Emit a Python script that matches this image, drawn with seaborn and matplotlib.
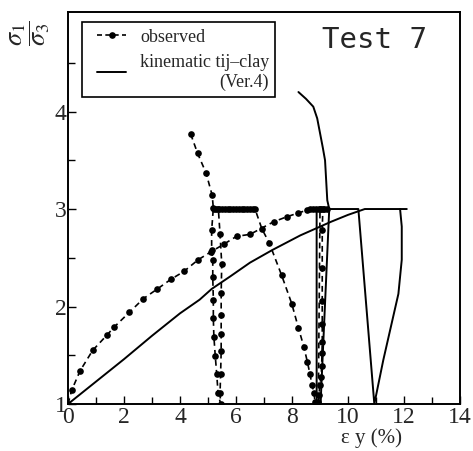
import numpy as np
import pandas as pd
import matplotlib
matplotlib.use('Agg')
import matplotlib.pyplot as plt
from matplotlib.lines import Line2D
from matplotlib.legend_handler import HandlerLine2D
from matplotlib.ticker import FixedLocator
import seaborn as sns

# observed: monotonic loading branch + unload/reload near 9 %
obs_load_x = [0.0, 0.13, 0.43, 0.88, 1.40, 1.65, 2.19, 2.69, 3.19, 3.68, 4.14, 4.65, 5.10, 5.57,
              6.02, 6.50, 7.35, 7.81, 8.23, 8.55, 8.65, 8.75, 8.85, 8.95, 9.05, 9.15, 9.24,
              9.00, 8.94, 8.96, 9.00, 9.04, 9.06, 9.07, 9.08, 9.08, 9.08, 9.08, 9.08, 9.10]
obs_load_y = [1.0, 1.14, 1.34, 1.55, 1.71, 1.79, 1.94, 2.08, 2.18, 2.28, 2.36, 2.48, 2.56, 2.64,
              2.72, 2.74, 2.87, 2.92, 2.96, 2.99, 3.0, 3.0, 3.0, 3.0, 3.0, 3.0, 3.0,
              3.0, 1.02, 1.09, 1.2, 1.28, 1.39, 1.52, 1.64, 1.82, 2.06, 2.39, 2.78, 3.0]

# observed: second branch with cycle near 5 %
obs_cyc_x = [4.38, 4.63, 4.93, 5.15, 5.19, 5.13, 5.13, 5.17, 5.17, 5.19, 5.19, 5.21, 5.26, 5.31,
             5.36, 5.45, 5.43, 5.45, 5.47, 5.47, 5.47, 5.47, 5.49, 5.43, 5.37,
             5.2, 5.3, 5.4, 5.5, 5.6, 5.7, 5.8, 5.9, 6.0, 6.1, 6.2, 6.3, 6.4, 6.5, 6.6, 6.68,
             6.92, 7.19, 7.63, 7.99, 8.23, 8.43, 8.55, 8.64, 8.71, 8.79, 8.82]
obs_cyc_y = [3.77, 3.57, 3.37, 3.14, 3.01, 2.78, 2.58, 2.48, 2.30, 2.07, 1.88, 1.69, 1.49, 1.31,
             1.11, 1.0, 1.11, 1.31, 1.54, 1.72, 1.91, 2.14, 2.44, 2.74, 3.0,
             3.0, 3.0, 3.0, 3.0, 3.0, 3.0, 3.0, 3.0, 3.0, 3.0, 3.0, 3.0, 3.0, 3.0, 3.0, 3.0,
             2.80, 2.65, 2.32, 2.03, 1.78, 1.58, 1.43, 1.31, 1.20, 1.11, 1.02]

# kinematic tij-clay (Ver.4)
kin_load_x = [0.0, 1.0, 2.0, 3.0, 4.0, 4.7, 5.13, 5.8, 6.5, 7.3, 8.3, 9.4, 10.0, 10.6, 12.1]
kin_load_y = [1.0, 1.23, 1.46, 1.70, 1.93, 2.07, 2.18, 2.31, 2.45, 2.58, 2.73, 2.87, 2.94, 3.0, 3.0]
kin_cyc1_x = [8.52, 10.37, 10.94, 11.26, 11.8, 11.92, 11.92, 11.86]
kin_cyc1_y = [3.0, 3.0, 1.0, 1.45, 2.13, 2.48, 2.82, 3.0]
kin_cyc2_x = [8.23, 8.5, 8.76, 8.9, 9.0, 9.1, 9.18, 9.26, 9.33, 9.02, 8.88, 8.88]
kin_cyc2_y = [4.2, 4.13, 4.05, 3.93, 3.78, 3.63, 3.5, 3.09, 3.0, 1.0, 1.0, 3.0]

x_ticks = [0, 2, 4, 6, 8, 10, 12, 14]
y_ticks = [1, 2, 3, 4]


def segs(*pairs):
    frames = []
    for i, (xs, ys) in enumerate(pairs):
        frames.append(pd.DataFrame({'x': xs, 'y': ys, 'seg': i}))
    return pd.concat(frames, ignore_index=True)


obs = segs((obs_load_x, obs_load_y), (obs_cyc_x, obs_cyc_y))
kin = segs((kin_load_x, kin_load_y), (kin_cyc1_x, kin_cyc1_y), (kin_cyc2_x, kin_cyc2_y))

sns.set_style('ticks')
plt.rcParams['font.family'] = ['Liberation Serif', 'DejaVu Serif']
plt.rcParams['mathtext.fontset'] = 'stix'

fig = plt.figure(figsize=(4.73, 4.51), dpi=100)
ax = fig.add_axes([0.1438, 0.1042, 0.8287, 0.869])

sns.lineplot(data=kin, x='x', y='y', units='seg', estimator=None, sort=False,
             color='black', linewidth=1.4, ax=ax)
sns.lineplot(data=obs, x='x', y='y', units='seg', estimator=None, sort=False,
             color='black', linewidth=1.2, linestyle=(0, (3.5, 2.5)), marker='o',
             markersize=4.8, markeredgewidth=0, ax=ax)

ax.set_xlim(0, 14)
ax.set_ylim(1, 5.02)
ax.xaxis.set_major_locator(FixedLocator(x_ticks))
ax.xaxis.set_minor_locator(FixedLocator(list(range(1, 14, 2))))
ax.yaxis.set_major_locator(FixedLocator(y_ticks))
ax.yaxis.set_minor_locator(FixedLocator([1.5, 2.5, 3.5, 4.5]))
ax.tick_params(which='both', direction='in', color='black', width=1.0)
ax.tick_params(which='major', length=6, labelsize=17)
ax.tick_params(which='minor', length=5)
ax.tick_params(axis='y', pad=1)
ax.tick_params(axis='x', pad=2)
for s in ax.spines.values():
    s.set_visible(True)
    s.set_linewidth(1.4)
    s.set_color('black')
ax.set_xlabel('')
ax.set_ylabel('')

handles = [Line2D([], [], color='black', linewidth=1.2, linestyle=(0, (3, 2)),
                  marker='o', markersize=4.8, markeredgewidth=0),
           Line2D([], [], color='black', linewidth=1.4)]
leg = ax.legend(handles, ['observed', 'kinematic tij\u2013clay\n(Ver.4)'],
                loc='upper left', bbox_to_anchor=(0.036, 0.974), borderaxespad=0,
                fancybox=False, framealpha=1, edgecolor='black', fontsize=13,
                numpoints=1, handlelength=2.1, handletextpad=0.75, borderpad=0.35,
                labelspacing=0.45,
                handler_map={Line2D: HandlerLine2D(numpoints=1, xpad=0.5)})
leg.get_frame().set_linewidth(1.2)
leg.get_texts()[1].set_multialignment('right')

ax.text(10.93, 4.73, 'Test 7', family='DejaVu Sans Mono', fontsize=21,
        ha='center', va='center')

fig.text(30 / 473, 1 - 33 / 451, r'$\dfrac{\sigma_1}{\sigma_3}$', rotation=90,
         fontsize=19, ha='center', va='center')
fig.text(371 / 473, 1 - 438 / 451, '\u03b5 y (%)', fontsize=15, ha='center', va='center')

fig.savefig('out.png', dpi=100)
